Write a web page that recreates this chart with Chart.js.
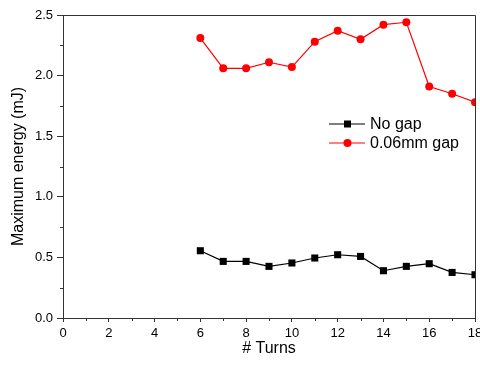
<!DOCTYPE html>
<html>
<head>
<meta charset="utf-8">
<script src="https://cdn.jsdelivr.net/npm/chart.js@4.4.1/dist/chart.umd.min.js"></script>
<style>
    html, body { margin: 0; padding: 0; background: #fff; }
    #energyChart { display: block; }
</style>
</head>
<body>
<canvas id="energyChart" width="480" height="369"></canvas>
<script>
// values
const turns = [6, 7, 8, 9, 10, 11, 12, 13, 14, 15, 16, 17, 18];
const noGap = [0.555, 0.467, 0.467, 0.426, 0.454, 0.495, 0.522, 0.508, 0.39, 0.426, 0.448, 0.376, 0.357];
const gap006 = [2.31, 2.06, 2.06, 2.11, 2.07, 2.28, 2.37, 2.30, 2.42, 2.44, 1.91, 1.85, 1.78];
const seriesLabels = ['No gap', '0.06mm gap'];

const FONT = 'Arial, "Liberation Sans", sans-serif';
const AXIS_COLOR = '#333';

// box frame + minor ticks
const framePlugin = {
    id: 'frame',
    afterDraw(chart) {
        const { ctx, chartArea: a, scales } = chart;
        ctx.save();
        ctx.strokeStyle = AXIS_COLOR;
        ctx.lineWidth = 1;
        ctx.beginPath();
        ctx.moveTo(a.left, a.top + 0.5);
        ctx.lineTo(a.right + 0.5, a.top + 0.5);
        ctx.lineTo(a.right + 0.5, a.bottom);
        ctx.stroke();

        // minor ticks
        ctx.beginPath();
        for (let v = 1; v < 18; v += 2) {
            const px = Math.round(scales.x.getPixelForValue(v)) + 0.5;
            ctx.moveTo(px, a.bottom);
            ctx.lineTo(px, a.bottom + 3);
        }
        for (let v = 0.25; v < 2.5; v += 0.5) {
            const py = Math.round(scales.y.getPixelForValue(v)) + 0.5;
            ctx.moveTo(a.left, py);
            ctx.lineTo(a.left - 3, py);
        }
        ctx.stroke();
        ctx.restore();
    }
};

// legend drawn like the original: line + marker + text
const legendPlugin = {
    id: 'lineLegend',
    afterDraw(chart) {
        const ctx = chart.ctx;
        const rows = [
            { y: 124, color: '#000', shape: 'rect', text: seriesLabels[0] },
            { y: 143, color: '#ff0000', shape: 'circle', text: seriesLabels[1] }
        ];
        ctx.save();
        rows.forEach(r => {
            ctx.strokeStyle = r.color;
            ctx.fillStyle = r.color;
            ctx.lineWidth = 1.2;
            ctx.beginPath();
            ctx.moveTo(329, r.y);
            ctx.lineTo(365, r.y);
            ctx.stroke();
            if (r.shape === 'rect') {
                ctx.fillRect(344, r.y - 3.5, 7, 7);
            } else {
                ctx.beginPath();
                ctx.arc(347.5, r.y, 4, 0, Math.PI * 2);
                ctx.fill();
            }
            ctx.fillStyle = '#000';
            ctx.font = '16px ' + FONT;
            ctx.textBaseline = 'middle';
            ctx.textAlign = 'left';
            ctx.fillText(r.text, 370, r.y + 1);
        });
        ctx.restore();
    }
};

const ctx = document.getElementById('energyChart').getContext('2d');
new Chart(ctx, {
    type: 'line',
    data: {
        datasets: [{
            label: seriesLabels[0],
            data: turns.map((t, i) => ({ x: t, y: noGap[i] })),
            borderColor: '#000',
            backgroundColor: '#000',
            borderWidth: 1.2,
            pointStyle: 'rect',
            pointRadius: 5,
            pointBorderWidth: 0,
            tension: 0,
            clip: 0
        }, {
            label: seriesLabels[1],
            data: turns.map((t, i) => ({ x: t, y: gap006[i] })),
            borderColor: '#ff0000',
            backgroundColor: '#ff0000',
            borderWidth: 1.2,
            pointStyle: 'circle',
            pointRadius: 4,
            pointBorderWidth: 0,
            tension: 0,
            clip: 0
        }]
    },
    options: {
        responsive: false,
        animation: false,
        layout: { padding: { top: 15, right: 4, left: 0, bottom: 0 } },
        plugins: {
            legend: { display: false },
            tooltip: { enabled: false }
        },
        scales: {
            x: {
                type: 'linear',
                min: 0,
                max: 18,
                // the "18" label runs off the edge in the original, so no extra room for it
                afterFit: s => { s.height = 51; s.paddingLeft = 0; s.paddingRight = 0; },
                ticks: {
                    stepSize: 2,
                    padding: 4,
                    color: '#000',
                    font: { family: FONT, size: 13 },
                    maxRotation: 0
                },
                grid: { drawOnChartArea: false, drawTicks: true, tickLength: 4, color: AXIS_COLOR },
                border: { color: AXIS_COLOR, width: 1 },
                title: {
                    display: true,
                    text: '# Turns',
                    color: '#000',
                    font: { family: FONT, size: 16 },
                    padding: { top: 0, bottom: 11 }
                }
            },
            y: {
                type: 'linear',
                min: 0,
                max: 2.5,
                afterFit: s => { s.width = 63; s.paddingTop = 0; s.paddingBottom = 0; },
                ticks: {
                    stepSize: 0.5,
                    padding: 4,
                    color: '#000',
                    font: { family: FONT, size: 13 },
                    callback: v => v.toFixed(1)
                },
                grid: { drawOnChartArea: false, drawTicks: true, tickLength: 6, color: AXIS_COLOR },
                border: { color: AXIS_COLOR, width: 1 },
                title: {
                    display: true,
                    text: 'Maximum energy (mJ)',
                    color: '#000',
                    font: { family: FONT, size: 16 },
                    padding: { top: 9, bottom: 0 }
                }
            }
        }
    },
    plugins: [framePlugin, legendPlugin]
});
</script>
</body>
</html>
